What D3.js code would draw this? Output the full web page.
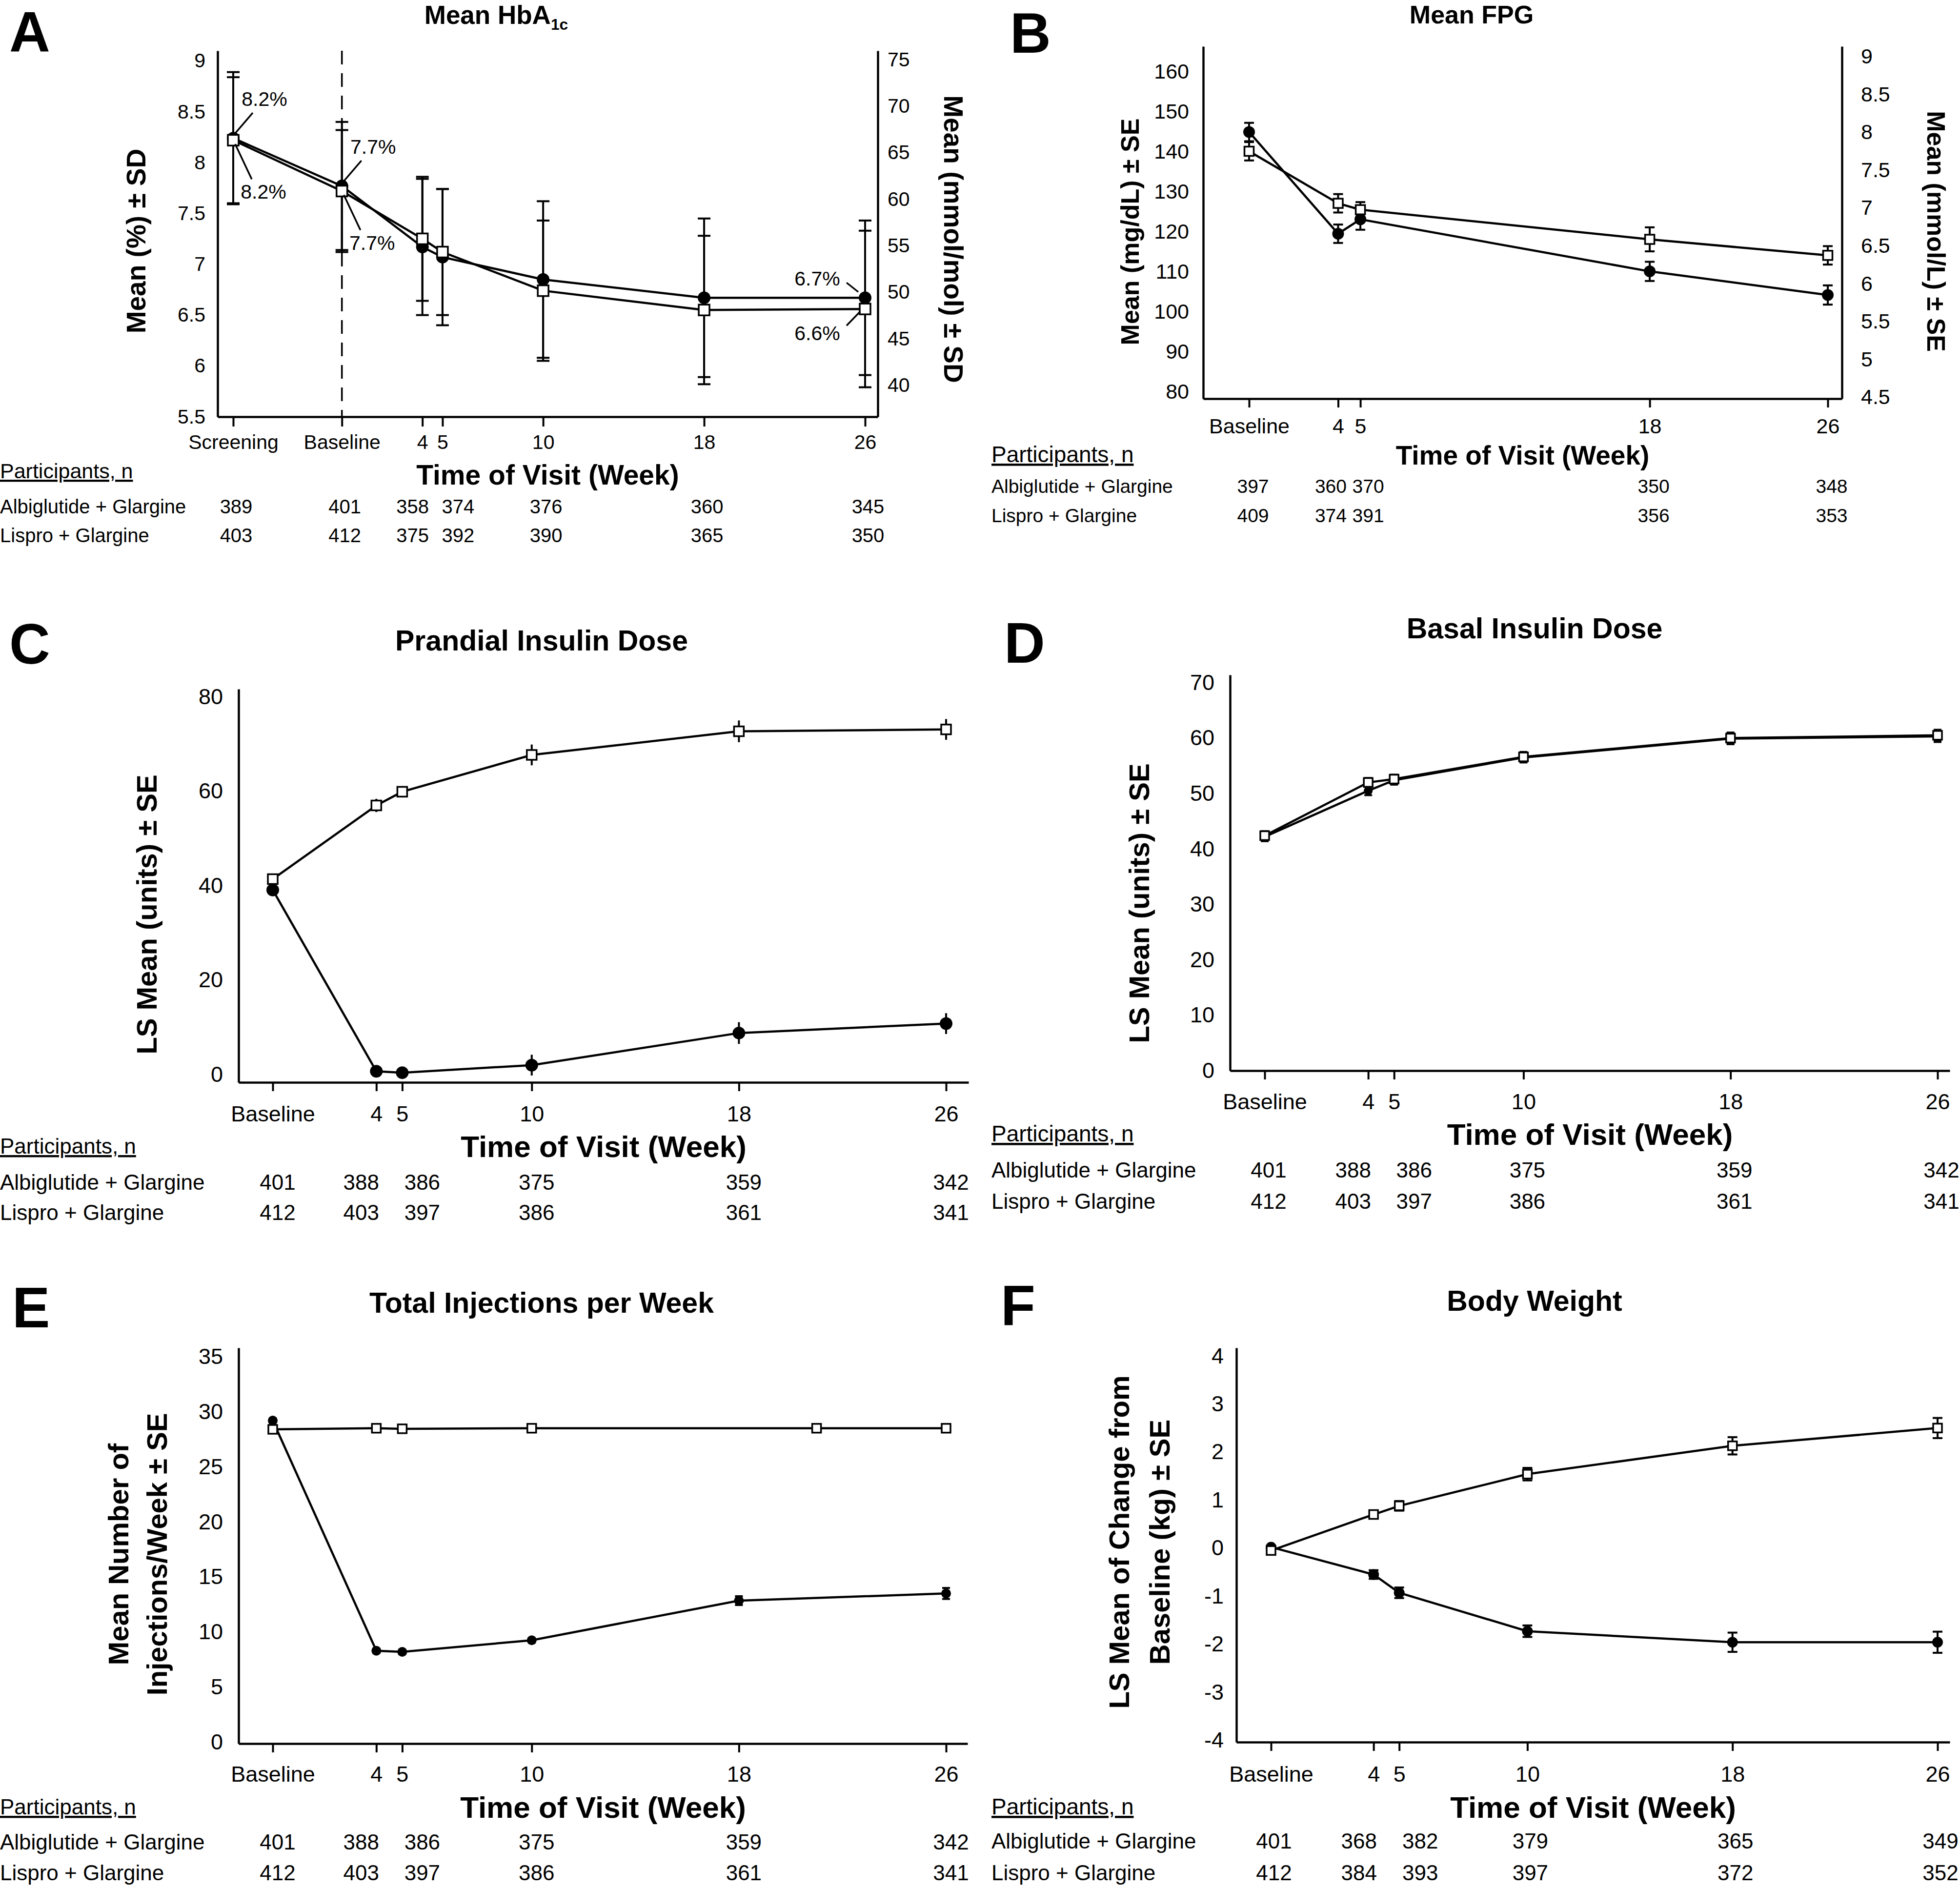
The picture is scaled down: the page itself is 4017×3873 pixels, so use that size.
<!DOCTYPE html>
<html lang="en">
<head>
<meta charset="utf-8">
<title>Albiglutide + Glargine vs Lispro + Glargine</title>
<script src="https://cdn.jsdelivr.net/npm/d3@7"></script>
<style>
  body { margin: 0; background: #fff; }
  svg text { font-family: "Liberation Sans", Arial, Helvetica, sans-serif; fill: #000; }
</style>
</head>
<body>
<script>
// ---------------- data ----------------
const seriesNames = ["Albiglutide + Glargine", "Lispro + Glargine"];

// A: mean HbA1c (%) ± SD
const visitsA = ["Screening", "Baseline", "4", "5", "10", "18", "26"];
const hba1cAlbi = [8.24, 7.77, 7.17, 7.07, 6.85, 6.67, 6.67];
const hba1cAlbiSD = [0.65, 0.63, 0.67, 0.67, 0.77, 0.78, 0.76];
const hba1cLispro = [8.22, 7.72, 7.25, 7.12, 6.74, 6.55, 6.56];
const hba1cLisproSD = [0.62, 0.60, 0.61, 0.62, 0.69, 0.73, 0.77];
const nAlbiA = [389, 401, 358, 374, 376, 360, 345];
const nLisproA = [403, 412, 375, 392, 390, 365, 350];
const ticksA = [5.5, 6, 6.5, 7, 7.5, 8, 8.5, 9];
const ticksAmmol = [40, 45, 50, 55, 60, 65, 70, 75];
const annotA = [
  { visit: "Screening", series: 0, text: "8.2%", side: "upR" },
  { visit: "Screening", series: 1, text: "8.2%", side: "downR" },
  { visit: "Baseline", series: 0, text: "7.7%", side: "upR" },
  { visit: "Baseline", series: 1, text: "7.7%", side: "downR" },
  { visit: "26", series: 0, text: "6.7%", side: "upL" },
  { visit: "26", series: 1, text: "6.6%", side: "downL" }
];

// B: mean FPG (mg/dL) ± SE
const visitsB = ["Baseline", "4", "5", "18", "26"];
const fpgAlbi = [144.9, 119.5, 123.1, 110.1, 104.2];
const fpgAlbiSE = [2.3, 2.3, 2.6, 2.4, 2.4];
const fpgLispro = [140.1, 127.1, 125.5, 118.1, 114.1];
const fpgLisproSE = [2.3, 2.3, 1.9, 3.0, 2.3];
const nAlbiB = [397, 360, 370, 350, 348];
const nLisproB = [409, 374, 391, 356, 353];
const ticksB = [80, 90, 100, 110, 120, 130, 140, 150, 160];
const ticksBmmol = [4.5, 5, 5.5, 6, 6.5, 7, 7.5, 8, 8.5, 9];

// C-F share visits
const visitsCF = ["Baseline", "4", "5", "10", "18", "26"];

// C: prandial insulin dose (units)
const prandAlbi = [39.1, 0.7, 0.4, 2.0, 8.8, 10.8];
const prandAlbiSE = [1.0, 0.5, 0.5, 2.2, 2.3, 2.2];
const prandLispro = [41.4, 57.0, 59.9, 67.7, 72.7, 73.1];
const prandLisproSE = [1.0, 1.4, 1.2, 2.2, 2.3, 2.2];
const nAlbiCDE = [401, 388, 386, 375, 359, 342];
const nLisproCDE = [412, 403, 397, 386, 361, 341];
const ticksC = [0, 20, 40, 60, 80];

// D: basal insulin dose (units)
const basalAlbi = [42.2, 50.5, 52.4, 56.5, 59.9, 60.3];
const basalAlbiSE = [0.8, 0.8, 0.8, 0.9, 1.0, 1.0];
const basalLispro = [42.4, 52.0, 52.6, 56.6, 60.0, 60.5];
const basalLisproSE = [0.8, 0.8, 0.8, 0.9, 1.0, 1.0];
const ticksD = [0, 10, 20, 30, 40, 50, 60, 70];

// E: total injections per week
const injAlbi = [29.2, 8.3, 8.2, 9.25, 12.85, 13.5];
const injAlbiSE = [0.2, 0.2, 0.2, 0.2, 0.4, 0.5];
const injLisproVisits = ["Baseline", "4", "5", "10", "21", "26"];
const injLispro = [28.4, 28.5, 28.45, 28.5, 28.5, 28.5];
const injLisproSE = [0.1, 0.1, 0.1, 0.1, 0.1, 0.1];
const ticksE = [0, 5, 10, 15, 20, 25, 30, 35];

// F: change in body weight (kg)
const wtAlbi = [0.02, -0.55, -0.93, -1.73, -1.96, -1.96];
const wtAlbiSE = [0.03, 0.09, 0.11, 0.12, 0.2, 0.22];
const wtLispro = [-0.05, 0.70, 0.88, 1.54, 2.13, 2.50];
const wtLisproSE = [0.03, 0.07, 0.1, 0.13, 0.18, 0.21];
const nAlbiF = [401, 368, 382, 379, 365, 349];
const nLisproF = [412, 384, 393, 397, 372, 352];
const ticksF = [-4, -3, -2, -1, 0, 1, 2, 3, 4];

// ---------------- drawing ----------------
const W = 4017, H = 3873;
const SCREENING_WEEK = -5.4;
const weekOf = v => v === "Screening" ? SCREENING_WEEK : v === "Baseline" ? 0 : +v;
const toMmolMol = pct => (pct - 2.15) * 10.929;

const svg = d3.select("body").append("svg").attr("width", W).attr("height", H);
svg.append("rect").attr("width", W).attr("height", H).attr("fill", "#fff");

function styleAxis(sel, size) {
  sel.attr("font-family", null).attr("font-size", size);
  sel.select(".domain").attr("stroke-width", 4.5);
  sel.selectAll(".tick line").attr("stroke-width", 4);
}

function drawPanel(p) {
  const g = svg.append("g");
  const x = d3.scaleLinear().domain(p.xDom).range(p.xRange);
  const y = d3.scaleLinear().domain(p.yDom).range([p.bottom, p.top]);
  const xa = x.copy().domain([x.invert(p.left), x.invert(p.right)]).range([p.left, p.right]);

  g.append("text").attr("x", p.letterX).attr("y", p.letterY)
    .attr("font-size", 116).attr("font-weight", "bold").text(p.letter);

  const t = g.append("text").attr("x", p.titleX).attr("y", p.titleY)
    .attr("text-anchor", "middle").attr("font-size", p.titleSize).attr("font-weight", "bold").text(p.title);
  if (p.titleSub) t.append("tspan").attr("font-size", p.titleSize * 0.6).attr("dy", p.titleSize * 0.22).text(p.titleSub);

  // left axis, no tick marks
  const ly = g.append("g").attr("transform", `translate(${p.left},0)`)
    .call(d3.axisLeft(y).tickValues(p.yTicks).tickSize(0).tickPadding(p.yPad).tickFormat(d => String(d)));
  styleAxis(ly, p.tickFont);

  if (p.y2) {
    const y2 = d3.scaleLinear().domain(p.y2.dom).range([p.bottom, p.top]);
    const ry = g.append("g").attr("transform", `translate(${p.right},0)`)
      .call(d3.axisRight(y2).tickValues(p.y2.ticks).tickSize(0).tickPadding(p.y2.pad).tickFormat(d => String(d)));
    styleAxis(ry, p.tickFont);
    g.append("text").attr("transform", `translate(${p.y2.titleX},${p.y2.titleY}) rotate(90)`)
      .attr("text-anchor", "middle").attr("dominant-baseline", "central")
      .attr("font-size", p.yTitleSize).attr("font-weight", "bold").text(p.y2.title);
  }

  const labelOf = new Map(p.visits.map(v => [weekOf(v), v]));
  const bx = g.append("g").attr("transform", `translate(0,${p.bottom})`)
    .call(d3.axisBottom(xa).tickValues(p.visits.map(weekOf)).tickFormat(d => labelOf.get(d))
      .tickSizeInner(p.xTick).tickSizeOuter(0).tickPadding(p.xPad));
  styleAxis(bx, p.tickFont);

  // y title (one or two lines)
  p.yTitle.forEach((line, i) => {
    g.append("text").attr("transform", `translate(${p.yTitleX[i]},${p.yTitleY}) rotate(-90)`)
      .attr("text-anchor", "middle").attr("dominant-baseline", "central")
      .attr("font-size", p.yTitleSize).attr("font-weight", "bold").text(line);
  });

  g.append("text").attr("x", (p.left + p.right) / 2).attr("y", p.xTitleY)
    .attr("text-anchor", "middle").attr("dominant-baseline", "central")
    .attr("font-size", p.xTitleSize).attr("font-weight", "bold").text("Time of Visit (Week)");

  if (p.dashed) {
    g.append("line").attr("x1", x(0)).attr("x2", x(0)).attr("y1", p.top).attr("y2", p.bottom)
      .attr("stroke", "#000").attr("stroke-width", 3.5).attr("stroke-dasharray", "28,18");
  }

  const pts = p.series.map(s => s.vals.map((v, i) => ({ w: weekOf(s.visits[i]), v, e: s.err[i] })));
  const line = d3.line().x(d => x(d.w)).y(d => y(d.v));

  pts.forEach(ps => {
    g.append("path").datum(ps).attr("d", line).attr("fill", "none")
      .attr("stroke", "#000").attr("stroke-width", 4.5);
  });

  pts.forEach(ps => {
    const eb = g.append("g").attr("stroke", "#000").attr("stroke-width", 4);
    eb.selectAll(".v").data(ps).join("line")
      .attr("x1", d => x(d.w)).attr("x2", d => x(d.w))
      .attr("y1", d => y(d.v - d.e)).attr("y2", d => y(d.v + d.e));
    if (p.cap > 0) {
      [-1, 1].forEach(sgn => {
        eb.selectAll(null).data(ps).join("line")
          .attr("x1", d => x(d.w) - p.cap / 2).attr("x2", d => x(d.w) + p.cap / 2)
          .attr("y1", d => y(d.v + sgn * d.e)).attr("y2", d => y(d.v + sgn * d.e));
      });
    }
  });

  // circles (albiglutide) then squares (lispro) on top
  g.selectAll(null).data(pts[0]).join("circle")
    .attr("cx", d => x(d.w)).attr("cy", d => y(d.v)).attr("r", p.r).attr("fill", "#000");
  g.selectAll(null).data(pts[1]).join("rect")
    .attr("x", d => x(d.w) - p.sq / 2).attr("y", d => y(d.v) - p.sq / 2)
    .attr("width", p.sq).attr("height", p.sq)
    .attr("fill", "#fff").attr("stroke", "#000").attr("stroke-width", 3.5);

  if (p.annot) {
    const off = {
      upR:   { t: [64, -80], l: [4, -10, 40, -52] },
      downR: { t: [62, 106], l: [4, 8, 38, 80] },
      upL:   { t: [-98, -39], l: [-38, -31, -14, -12] },
      downL: { t: [-98, 50], l: [-38, 34, -10, 5] }
    };
    p.annot.forEach(a => {
      const s = p.series[a.series];
      const i = s.visits.indexOf(a.visit);
      const px = x(weekOf(a.visit)), py = y(s.vals[i]);
      const o = off[a.side];
      g.append("line").attr("x1", px + o.l[0]).attr("y1", py + o.l[1])
        .attr("x2", px + o.l[2]).attr("y2", py + o.l[3])
        .attr("stroke", "#000").attr("stroke-width", 3.5);
      g.append("text").attr("x", px + o.t[0]).attr("y", py + o.t[1])
        .attr("text-anchor", "middle").attr("dominant-baseline", "central")
        .attr("font-size", p.tickFont).text(a.text);
    });
  }

  // participants table
  g.append("text").attr("x", p.tableX).attr("y", p.partY).attr("font-size", p.partFont)
    .attr("text-decoration", "underline").text("Participants, n");
  const nudge = v => v === "4" ? p.nudge[0] : v === "5" ? p.nudge[1] : p.nudge[2];
  p.counts.forEach((cnt, k) => {
    g.append("text").attr("x", p.tableX).attr("y", p.rowY[k]).attr("font-size", p.tableFont).text(seriesNames[k]);
    g.selectAll(null).data(cnt).join("text")
      .attr("x", (d, i) => xa(weekOf(p.visits[i])) + nudge(p.visits[i]))
      .attr("y", p.rowY[k]).attr("text-anchor", "middle").attr("font-size", p.tableFont).text(d => d);
  });
}

// A
drawPanel({
  letter: "A", letterX: 19, letterY: 106,
  title: "Mean HbA", titleSub: "1c", titleX: 1017, titleY: 49, titleSize: 53,
  left: 446, right: 1799, top: 104, bottom: 854,
  xDom: [SCREENING_WEEK, 26], xRange: [478, 1773],
  yDom: [5.5, 9.1], yTicks: ticksA, yPad: 25, tickFont: 41,
  y2: { dom: [toMmolMol(5.5), toMmolMol(9.1)], ticks: ticksAmmol, pad: 20,
        title: "Mean (mmol/mol) ± SD", titleX: 1954, titleY: 490 },
  yTitle: ["Mean (%) ± SD"], yTitleX: [279], yTitleY: 494, yTitleSize: 55,
  xTick: 20, xPad: 17, xTitleY: 973, xTitleSize: 57,
  visits: visitsA, dashed: true,
  series: [
    { visits: visitsA, vals: hba1cAlbi, err: hba1cAlbiSD },
    { visits: visitsA, vals: hba1cLispro, err: hba1cLisproSD }
  ],
  annot: annotA,
  r: 13, sq: 22, cap: 26,
  tableX: 0, partY: 980, rowY: [1052, 1111], tableFont: 40, partFont: 43,
  counts: [nAlbiA, nLisproA], nudge: [-20, 32, 6]
});

// B
drawPanel({
  letter: "B", letterX: 2070, letterY: 108,
  title: "Mean FPG", titleX: 3016, titleY: 48, titleSize: 52,
  left: 2466, right: 3775, top: 95, bottom: 817,
  xDom: [0, 26], xRange: [2560, 3746],
  yDom: [78.3, 166.3], yTicks: ticksB, yPad: 29, tickFont: 43,
  y2: { dom: [4.48, 9.135], ticks: ticksBmmol, pad: 39,
        title: "Mean (mmol/L) ± SE", titleX: 3968, titleY: 474 },
  yTitle: ["Mean (mg/dL) ± SE"], yTitleX: [2316], yTitleY: 475, yTitleSize: 52,
  xTick: 18, xPad: 22, xTitleY: 933, xTitleSize: 55,
  visits: visitsB,
  series: [
    { visits: visitsB, vals: fpgAlbi, err: fpgAlbiSE },
    { visits: visitsB, vals: fpgLispro, err: fpgLisproSE }
  ],
  r: 12, sq: 19, cap: 20,
  tableX: 2032, partY: 947, rowY: [1010, 1070], tableFont: 39, partFont: 46,
  counts: [nAlbiB, nLisproB], nudge: [-15, 16, 8]
});

// C
drawPanel({
  letter: "C", letterX: 19, letterY: 1360,
  title: "Prandial Insulin Dose", titleX: 1110, titleY: 1333, titleSize: 59,
  left: 489, right: 1985, top: 1412, bottom: 2218,
  xDom: [0, 26], xRange: [559, 1939],
  yDom: [-1.65, 81.65], yTicks: ticksC, yPad: 32, tickFont: 45,
  yTitle: ["LS Mean (units) ± SE"], yTitleX: [300], yTitleY: 1874, yTitleSize: 58,
  xTick: 18, xPad: 30, xTitleY: 2349, xTitleSize: 62,
  visits: visitsCF,
  series: [
    { visits: visitsCF, vals: prandAlbi, err: prandAlbiSE },
    { visits: visitsCF, vals: prandLispro, err: prandLisproSE }
  ],
  r: 13, sq: 20, cap: 0,
  tableX: 0, partY: 2364, rowY: [2438, 2500], tableFont: 44, partFont: 44,
  counts: [nAlbiCDE, nLisproCDE], nudge: [-31, 41, 10]
});

// D
drawPanel({
  letter: "D", letterX: 2058, letterY: 1358,
  title: "Basal Insulin Dose", titleX: 3145, titleY: 1308, titleSize: 59,
  left: 2521, right: 3996, top: 1383, bottom: 2194,
  xDom: [0, 26], xRange: [2592, 3971],
  yDom: [0, 71.4], yTicks: ticksD, yPad: 32, tickFont: 45,
  yTitle: ["LS Mean (units) ± SE"], yTitleX: [2334], yTitleY: 1851, yTitleSize: 58,
  xTick: 18, xPad: 29, xTitleY: 2324, xTitleSize: 62,
  visits: visitsCF,
  series: [
    { visits: visitsCF, vals: basalAlbi, err: basalAlbiSE },
    { visits: visitsCF, vals: basalLispro, err: basalLisproSE }
  ],
  r: 9, sq: 18, cap: 16,
  tableX: 2032, partY: 2339, rowY: [2413, 2477], tableFont: 44, partFont: 46,
  counts: [nAlbiCDE, nLisproCDE], nudge: [-31, 41, 8]
});

// E
drawPanel({
  letter: "E", letterX: 25, letterY: 2720,
  title: "Total Injections per Week", titleX: 1110, titleY: 2690, titleSize: 59,
  left: 489, right: 1983, top: 2762, bottom: 3573,
  xDom: [0, 26], xRange: [559, 1939],
  yDom: [-0.13, 35.8], yTicks: ticksE, yPad: 32, tickFont: 45,
  yTitle: ["Mean Number of", "Injections/Week ± SE"], yTitleX: [242, 321], yTitleY: 3185, yTitleSize: 58,
  xTick: 18, xPad: 28, xTitleY: 3703, xTitleSize: 62,
  visits: visitsCF,
  series: [
    { visits: visitsCF, vals: injAlbi, err: injAlbiSE },
    { visits: injLisproVisits, vals: injLispro, err: injLisproSE }
  ],
  r: 10, sq: 18, cap: 16,
  tableX: 0, partY: 3718, rowY: [3790, 3853], tableFont: 44, partFont: 44,
  counts: [nAlbiCDE, nLisproCDE], nudge: [-31, 41, 10]
});

// F
drawPanel({
  letter: "F", letterX: 2051, letterY: 2716,
  title: "Body Weight", titleX: 3145, titleY: 2686, titleSize: 59,
  left: 2534, right: 3996, top: 2762, bottom: 3570,
  xDom: [0, 26], xRange: [2605, 3971],
  yDom: [-4.04, 4.17], yTicks: ticksF, yPad: 26, tickFont: 45,
  yTitle: ["LS Mean of Change from", "Baseline (kg) ± SE"], yTitleX: [2293, 2376], yTitleY: 3160, yTitleSize: 58,
  xTick: 18, xPad: 31, xTitleY: 3703, xTitleSize: 62,
  visits: visitsCF,
  series: [
    { visits: visitsCF, vals: wtAlbi, err: wtAlbiSE },
    { visits: visitsCF, vals: wtLispro, err: wtLisproSE }
  ],
  r: 11, sq: 18, cap: 20,
  tableX: 2032, partY: 3718, rowY: [3788, 3853], tableFont: 44, partFont: 46,
  counts: [nAlbiF, nLisproF], nudge: [-30, 43, 6]
});
</script>
</body>
</html>
